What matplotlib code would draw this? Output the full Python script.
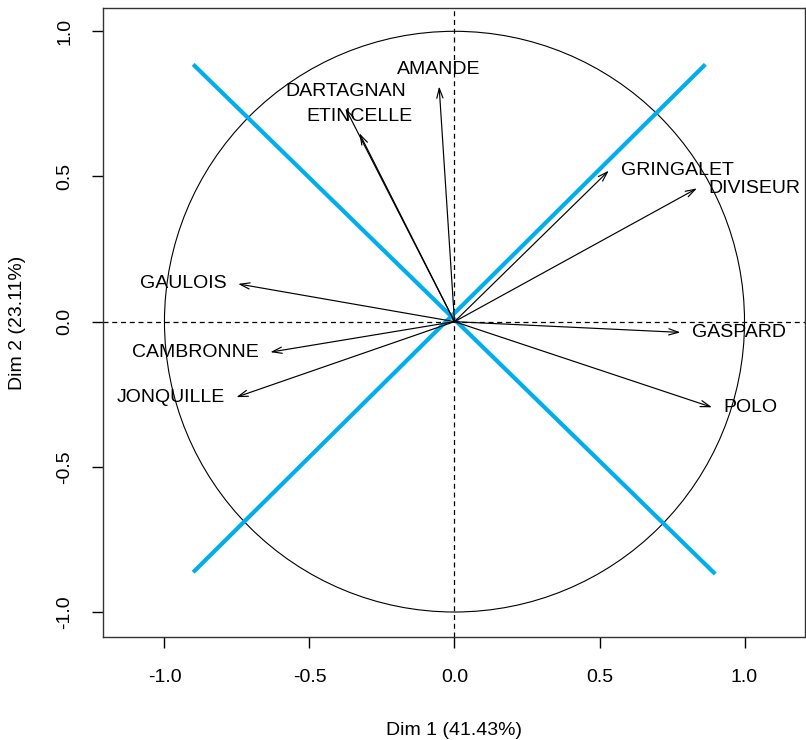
import numpy as np
import matplotlib.pyplot as plt
from matplotlib.patches import Circle

plt.rcParams['font.family'] = ['Liberation Sans', 'DejaVu Sans']

# variable coordinates on the first two dimensions
variables = ['AMANDE', 'DARTAGNAN', 'ETINCELLE', 'GRINGALET', 'DIVISEUR',
             'GAULOIS', 'CAMBRONNE', 'JONQUILLE', 'GASPARD', 'POLO']
dim1 = [-0.053, -0.376, -0.328, 0.532, 0.836, -0.746, -0.635, -0.752, 0.779, 0.888]
dim2 = [0.810, 0.735, 0.649, 0.520, 0.459, 0.130, -0.105, -0.260, -0.037, -0.295]

# two diagonal guide segments
diag_x = [[-0.901, 0.899], [-0.901, 0.865]]
diag_y = [[0.886, -0.869], [-0.863, 0.886]]

xticks = [-1.0, -0.5, 0.0, 0.5, 1.0]
yticks = [-1.0, -0.5, 0.0, 0.5, 1.0]

fig = plt.figure(figsize=(8.06, 7.4), dpi=100)
ax = fig.add_axes([0.1272, 0.1396, 0.871, 0.8495])
ax.set_xlim(-1.2136, 1.207)
ax.set_ylim(-1.085, 1.080)

ax.add_patch(Circle((0, 0), 1, fill=False, color='black', lw=0.8))
ax.axhline(0, color='black', lw=0.9, ls=(0, (4, 3)))
ax.axvline(0, color='black', lw=0.9, ls=(0, (4, 3)))

for x, y, name in zip(dim1, dim2, variables):
    ax.annotate('', xy=(x, y), xytext=(0, 0),
                arrowprops=dict(arrowstyle='->,head_length=0.5,head_width=0.16',
                                mutation_scale=14, color='black', lw=0.85,
                                shrinkA=0, shrinkB=0))
    if abs(y) > abs(x):
        ax.annotate(name, (x, y), xytext=(0, 6), textcoords='offset points',
                    ha='center', va='bottom', fontsize=14)
    elif x > 0:
        ax.annotate(name, (x, y), xytext=(8.5, 0), textcoords='offset points',
                    ha='left', va='center', fontsize=14)
    else:
        ax.annotate(name, (x, y), xytext=(-8.5, 0), textcoords='offset points',
                    ha='right', va='center', fontsize=14)

for xs, ys in zip(diag_x, diag_y):
    ax.plot(xs, ys, color='#00AEEF', lw=3, solid_capstyle='butt')

ax.set_xticks(xticks)
ax.set_yticks(yticks)
ax.set_xticklabels([f'{t:.1f}' for t in xticks])
ax.set_yticklabels([f'{t:.1f}' for t in yticks], rotation=90, va='center')
ax.tick_params(direction='out', length=8, width=1, labelsize=14)
ax.tick_params(axis='x', pad=15)
ax.tick_params(axis='y', pad=13)
for s in ax.spines.values():
    s.set_linewidth(1)
    s.set_color('#333333')

ax.set_xlabel('Dim 1 (41.43%)', fontsize=14, labelpad=26)
ax.set_ylabel('Dim 2 (23.11%)', fontsize=14, labelpad=22)

fig.savefig('out.png', dpi=100)
